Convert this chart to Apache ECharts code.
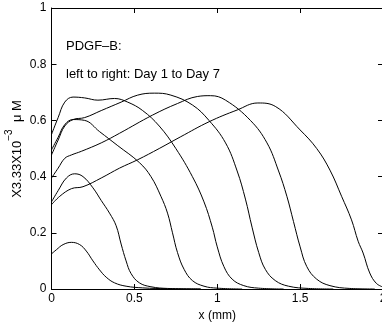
<!DOCTYPE html>
<html>
<head>
<meta charset="utf-8">
<script src="https://cdn.jsdelivr.net/npm/echarts@6/dist/echarts.min.js"></script>
<style>
  html, body { margin: 0; padding: 0; background: #fff; }
  #chart { width: 382px; height: 327px; }
</style>
</head>
<body>
<div id="chart"></div>
<script>
// PDGF-B concentration profiles, x in mm, one curve per day
const day1 = [[0,0.125],[0.03,0.14],[0.07,0.158],[0.12,0.166],[0.17,0.158],[0.21,0.135],[0.25,0.1],[0.29,0.068],[0.33,0.042],[0.38,0.022],[0.45,0.01],[0.55,0.004],[0.7,0.001],[0.9,0]];
const day2 = [[0,0.31],[0.04,0.35],[0.09,0.395],[0.14,0.41],[0.19,0.4],[0.25,0.36],[0.3,0.315],[0.35,0.27],[0.39,0.225],[0.42,0.16],[0.45,0.1],[0.48,0.055],[0.53,0.022],[0.6,0.008],[0.7,0.002],[0.9,0]];
const day3 = [[0,0.495],[0.04,0.54],[0.08,0.585],[0.13,0.603],[0.2,0.6],[0.29,0.56],[0.4,0.51],[0.53,0.45],[0.6,0.4],[0.66,0.33],[0.7,0.27],[0.73,0.2],[0.76,0.13],[0.8,0.07],[0.85,0.03],[0.92,0.01],[1.0,0.003],[1.15,0]];
const day4 = [[0,0.55],[0.04,0.61],[0.08,0.665],[0.13,0.683],[0.2,0.68],[0.28,0.672],[0.38,0.678],[0.46,0.665],[0.55,0.635],[0.65,0.58],[0.75,0.5],[0.85,0.4],[0.92,0.31],[0.97,0.22],[1.0,0.15],[1.04,0.08],[1.09,0.035],[1.16,0.012],[1.25,0.003],[1.4,0]];
const day5 = [[0,0.477],[0.04,0.53],[0.08,0.58],[0.13,0.603],[0.2,0.61],[0.3,0.635],[0.42,0.665],[0.52,0.69],[0.62,0.697],[0.72,0.69],[0.85,0.655],[0.95,0.6],[1.05,0.52],[1.12,0.42],[1.17,0.32],[1.21,0.22],[1.25,0.13],[1.29,0.07],[1.35,0.03],[1.43,0.01],[1.55,0.002],[1.7,0]];
const day6 = [[0,0.395],[0.04,0.43],[0.08,0.465],[0.12,0.477],[0.18,0.49],[0.3,0.52],[0.41,0.554],[0.61,0.619],[0.76,0.66],[0.88,0.685],[0.96,0.688],[1.05,0.672],[1.2,0.6],[1.3,0.52],[1.37,0.42],[1.42,0.33],[1.46,0.24],[1.5,0.15],[1.54,0.08],[1.6,0.035],[1.68,0.012],[1.8,0.002],[1.95,0]];
const day7 = [[0,0.30],[0.05,0.33],[0.12,0.357],[0.19,0.364],[0.3,0.395],[0.41,0.43],[0.52,0.46],[0.65,0.5],[0.78,0.542],[0.95,0.595],[1.12,0.637],[1.245,0.662],[1.35,0.65],[1.5,0.566],[1.6,0.5],[1.68,0.423],[1.75,0.33],[1.81,0.246],[1.85,0.17],[1.88,0.128],[1.92,0.057],[1.96,0.02],[2.0,0.007]];

const days = [day1, day2, day3, day4, day5, day6, day7];
const xTicks = [0, 0.5, 1, 1.5, 2];
const yTicks = [0, 0.2, 0.4, 0.6, 0.8, 1];

const FONT = 'Liberation Sans, Arial, Helvetica, sans-serif';
const BLACK = '#000';

const chart = echarts.init(document.getElementById('chart'), null, { renderer: 'canvas' });

function frameAxis(extra) {
  return Object.assign({
    type: 'value',
    axisLine: { show: true, onZero: false, lineStyle: { color: BLACK, width: 1 } },
    axisTick: { show: true, inside: true, length: 5, lineStyle: { color: BLACK, width: 1 } },
    splitLine: { show: false },
    axisLabel: { show: false }
  }, extra);
}

const tickLabel = { show: true, color: BLACK, fontFamily: FONT, fontSize: 12, showMinLabel: true, showMaxLabel: true, hideOverlap: false };

chart.setOption({
  animation: false,
  backgroundColor: '#fff',
  grid: { left: 51.5, top: 8, width: 331.5, height: 281, containLabel: false, outerBoundsMode: 'none' },
  xAxis: [
    frameAxis({
      position: 'bottom', min: xTicks[0], max: xTicks[xTicks.length - 1], interval: 0.5,
      axisLabel: Object.assign({ margin: 4 }, tickLabel),
      name: 'x (mm)', nameLocation: 'middle', nameGap: 20,
      nameTextStyle: { color: BLACK, fontFamily: FONT, fontSize: 12 }
    }),
    frameAxis({ position: 'top', min: xTicks[0], max: xTicks[xTicks.length - 1], interval: 0.5 })
  ],
  yAxis: [
    frameAxis({
      position: 'left', min: yTicks[0], max: yTicks[yTicks.length - 1], interval: 0.2,
      axisLabel: Object.assign({ margin: 5 }, tickLabel)
    }),
    frameAxis({ position: 'right', min: yTicks[0], max: yTicks[yTicks.length - 1], interval: 0.2 })
  ],
  graphic: [
    {
      type: 'text', left: 66, top: 40,
      style: { text: 'PDGF\u2013B:', fill: BLACK, font: '13px ' + FONT }
    },
    {
      type: 'text', left: 66, top: 68,
      style: { text: 'left to right: Day 1 to Day 7', fill: BLACK, font: '13px ' + FONT }
    },
    {
      type: 'text', x: 14, y: 149, rotation: Math.PI / 2,
      style: {
        text: '{a|X3.33X10}{s|\u22123}{a|  \u03bc M}',
        align: 'center', verticalAlign: 'middle',
        rich: {
          a: { fontFamily: FONT, fontSize: 13, fill: BLACK, color: BLACK, lineHeight: 19, verticalAlign: 'bottom' },
          s: { fontFamily: FONT, fontSize: 10, fill: BLACK, color: BLACK, lineHeight: 19, verticalAlign: 'top' }
        }
      }
    }
  ],
  series: days.map((d, i) => ({
    name: 'Day ' + (i + 1),
    type: 'line',
    data: d,
    smooth: 0.4,
    showSymbol: false,
    symbol: 'none',
    clip: true,
    lineStyle: { color: BLACK, width: 1 }
  }))
});
</script>
</body>
</html>
